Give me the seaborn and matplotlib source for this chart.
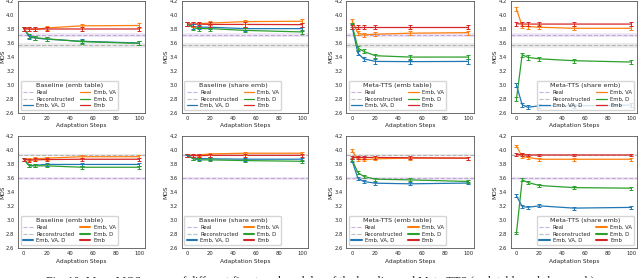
import pandas as pd
import matplotlib.pyplot as plt
import seaborn as sns
from matplotlib.lines import Line2D

sns.set_style('white')
plt.rcParams['font.family'] = ['DejaVu Sans']

steps = [0, 5, 10, 20, 50, 100]
methods = ['Emb, VA, D', 'Emb, VA', 'Emb, D', 'Emb']
palette = dict(zip(methods, ['#1f77b4', '#ff7f0e', '#2ca02c', '#d62728']))
titles = ['Baseline (emb table)', 'Baseline (share emb)',
          'Meta-TTS (emb table)', 'Meta-TTS (share emb)']

# reference lines (real / reconstructed speech), per row
real_mos = [3.71, 3.59]
recon_mos = [3.56, 3.92]
ref_band = [0.03, 0.015]
err_size = [0.03, 0.02]

# top row
base_table_1 = {'Emb, VA, D': [3.80, 3.68, 3.665, 3.65, 3.62, 3.595],
                'Emb, VA': [3.80, 3.79, 3.79, 3.81, 3.84, 3.845],
                'Emb, D': [3.80, 3.70, 3.67, 3.655, 3.615, 3.59],
                'Emb': [3.80, 3.795, 3.795, 3.795, 3.795, 3.795]}
base_share_1 = {'Emb, VA, D': [3.865, 3.83, 3.82, 3.82, 3.80, 3.80],
                'Emb, VA': [3.867, 3.86, 3.87, 3.88, 3.90, 3.905],
                'Emb, D': [3.865, 3.81, 3.80, 3.80, 3.775, 3.753],
                'Emb': [3.865, 3.865, 3.865, 3.86, 3.86, 3.857]}
meta_table_1 = {'Emb, VA, D': [3.83, 3.45, 3.37, 3.333, 3.33, 3.333],
                'Emb, VA': [3.914, 3.74, 3.71, 3.72, 3.735, 3.743],
                'Emb, D': [3.857, 3.524, 3.476, 3.414, 3.395, 3.395],
                'Emb': [3.824, 3.824, 3.824, 3.824, 3.824, 3.824]}
meta_share_1 = {'Emb, VA, D': [2.995, 2.714, 2.68, 2.70, 2.70, 2.71],
                'Emb, VA': [4.08, 3.833, 3.83, 3.82, 3.805, 3.805],
                'Emb, D': [2.80, 3.428, 3.39, 3.37, 3.343, 3.324],
                'Emb': [3.87, 3.865, 3.865, 3.865, 3.865, 3.865]}

# bottom row
base_table_2 = {'Emb, VA, D': [3.864, 3.77, 3.78, 3.79, 3.79, 3.79],
                'Emb, VA': [3.864, 3.86, 3.87, 3.88, 3.90, 3.90],
                'Emb, D': [3.864, 3.77, 3.77, 3.77, 3.75, 3.75],
                'Emb': [3.864, 3.85, 3.855, 3.86, 3.864, 3.864]}
base_share_2 = {'Emb, VA, D': [3.91, 3.88, 3.875, 3.87, 3.865, 3.865],
                'Emb, VA': [3.92, 3.92, 3.925, 3.94, 3.95, 3.95],
                'Emb, D': [3.92, 3.87, 3.855, 3.855, 3.845, 3.835],
                'Emb': [3.92, 3.915, 3.915, 3.92, 3.92, 3.92]}
meta_table_2 = {'Emb, VA, D': [3.845, 3.594, 3.547, 3.523, 3.514, 3.525],
                'Emb, VA': [3.985, 3.864, 3.855, 3.87, 3.88, 3.88],
                'Emb, D': [3.855, 3.675, 3.62, 3.58, 3.57, 3.547],
                'Emb': [3.89, 3.89, 3.89, 3.89, 3.885, 3.88]}
meta_share_2 = {'Emb, VA, D': [3.343, 3.19, 3.18, 3.20, 3.168, 3.178],
                'Emb, VA': [4.053, 3.90, 3.89, 3.864, 3.864, 3.864],
                'Emb, D': [2.813, 3.57, 3.533, 3.49, 3.46, 3.452],
                'Emb': [3.93, 3.93, 3.925, 3.925, 3.925, 3.925]}

rows = [[base_table_1, base_share_1, meta_table_1, meta_share_1],
        [base_table_2, base_share_2, meta_table_2, meta_share_2]]

lefts = [0.028, 0.284, 0.541, 0.798]
widths = [0.199, 0.197, 0.200, 0.197]
bottoms = [0.594, 0.108]
height = 0.404

fig = plt.figure(figsize=(6.4, 2.78), dpi=100)

for r, row in enumerate(rows):
    for c, panel in enumerate(row):
        ax = fig.add_axes([lefts[c], bottoms[r], widths[c], height])
        df = pd.DataFrame([(s, m, v) for m in methods
                           for s, v in zip(steps, panel[m])],
                          columns=['step', 'method', 'mos'])

        # reference levels with a light band
        for val, col in [(real_mos[r], '#9467bd'), (recon_mos[r], '#7f7f7f')]:
            ax.axhline(val, color=col, ls='--', lw=0.8, alpha=0.5)
            ax.axhspan(val - ref_band[r], val + ref_band[r],
                       color=col, alpha=0.15, lw=0)

        sns.lineplot(data=df, x='step', y='mos', hue='method',
                     hue_order=methods, palette=palette, lw=0.9,
                     ax=ax, legend=False)
        for m in methods:
            ax.errorbar(steps, panel[m], yerr=err_size[r], fmt='none',
                        ecolor=palette[m], elinewidth=0.7, capsize=1.5,
                        capthick=0.7)

        ax.set_xlim(-5, 105)
        ax.set_ylim(2.6, 4.2)
        ax.set_xticks([0, 20, 40, 60, 80, 100])
        ax.set_yticks([2.6, 2.8, 3.0, 3.2, 3.4, 3.6, 3.8, 4.0, 4.2])
        ax.tick_params(labelsize=3.8, length=1.5, width=0.5, pad=1)
        ax.set_xlabel('Adaptation Steps', fontsize=4.2, labelpad=1.5)
        ax.set_ylabel('MOS', fontsize=4.2, labelpad=0.8)
        for sp in ax.spines.values():
            sp.set_linewidth(0.6)
            sp.set_color('#555555')

        handles = [Line2D([], [], color='#9467bd', ls='--', lw=0.8, alpha=0.5),
                   Line2D([], [], color='#7f7f7f', ls='--', lw=0.8, alpha=0.5)]
        handles += [Line2D([], [], color=palette[m], lw=0.9 if r == 0 else 1.5)
                    for m in methods]
        labels = ['Real', 'Reconstructed'] + methods
        ax.legend(handles, labels, title=titles[c], ncol=2,
                  loc='lower right' if c == 3 else 'lower left',
                  fontsize=3.8, title_fontsize=4.6, frameon=True,
                  framealpha=0.8, edgecolor='#cccccc', borderpad=0.4,
                  handlelength=2.0, columnspacing=1.0, labelspacing=0.3,
                  handletextpad=0.6)

fig.text(0.5, 0.008, 'Fig. 10: Mean MOS scores of different fine-tuned modules '
         'of the baseline and Meta-TTS (emb table and share emb)',
         ha='center', va='top', fontsize=8.5, family='Liberation Serif')

fig.savefig('out.png', dpi=100)
